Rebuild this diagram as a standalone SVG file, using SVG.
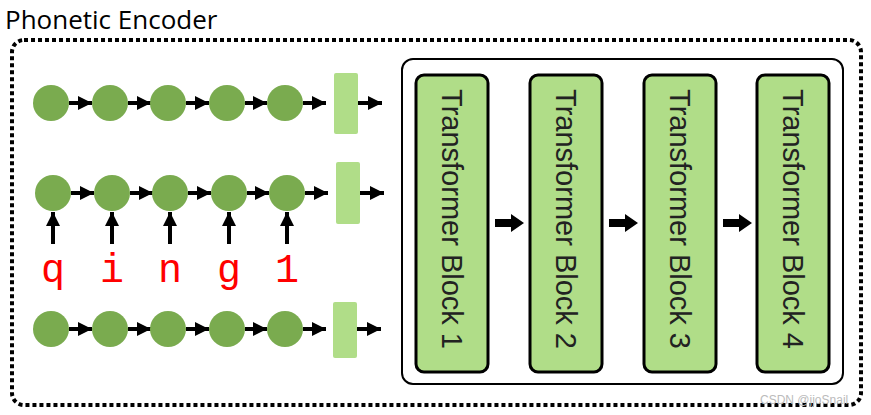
<svg xmlns="http://www.w3.org/2000/svg" width="871" height="415" viewBox="0 0 871 415">
<defs>
<marker id="ah" viewBox="0 0 10 10" refX="10" refY="5" markerWidth="15" markerHeight="14" markerUnits="userSpaceOnUse" orient="auto"><path d="M0,0 L10,5 L0,10 z" fill="#000"/></marker>
<style>
.c{fill:#7aab4f}
.a{stroke:#000;stroke-width:4;marker-end:url(#ah)}
.r{fill:#b0dd88}
.b{fill:#b0dd88;stroke:#000;stroke-width:3}
.bt{font-family:"Liberation Sans",Arial,sans-serif;font-size:29px;fill:#222}
.l{font-family:"Liberation Mono","Courier New",monospace;font-size:40px;fill:#f00}
</style>
</defs>
<rect width="871" height="415" fill="#fff"/>
<text x="5" y="29" font-family="Open Sans,Liberation Sans,sans-serif" font-size="26" fill="#000">Phonetic Encoder</text>
<rect x="12" y="40" width="849" height="365" rx="12" fill="none" stroke="#000" stroke-width="4" stroke-dasharray="4,3"/>
<rect x="402" y="59" width="441" height="325" rx="11" fill="none" stroke="#000" stroke-width="2"/>
<g id="connectors">
<line class="a" x1="69" y1="103" x2="92" y2="103"/><line class="a" x1="128" y1="103" x2="151" y2="103"/><line class="a" x1="186" y1="103" x2="209" y2="103"/><line class="a" x1="245" y1="103" x2="267" y2="103"/><line class="a" x1="303" y1="103" x2="326" y2="103"/><line class="a" x1="358" y1="103" x2="382" y2="103"/>
<line class="a" x1="71" y1="193" x2="94" y2="193"/><line class="a" x1="130" y1="193" x2="153" y2="193"/><line class="a" x1="188" y1="193" x2="211" y2="193"/><line class="a" x1="247" y1="193" x2="269" y2="193"/><line class="a" x1="305" y1="193" x2="328" y2="193"/><line class="a" x1="360" y1="193" x2="384" y2="193"/>
<line class="a" x1="69" y1="329" x2="92" y2="329"/><line class="a" x1="128" y1="329" x2="151" y2="329"/><line class="a" x1="186" y1="329" x2="209" y2="329"/><line class="a" x1="245" y1="329" x2="267" y2="329"/><line class="a" x1="303" y1="329" x2="326" y2="329"/><line class="a" x1="357" y1="329" x2="381" y2="329"/>
<line class="a" x1="53" y1="244" x2="53" y2="212"/><line class="a" x1="112" y1="244" x2="112" y2="212"/><line class="a" x1="170" y1="244" x2="170" y2="212"/><line class="a" x1="229" y1="244" x2="229" y2="212"/><line class="a" x1="287" y1="244" x2="287" y2="212"/>
<path d="M495,219 H511 V214 L524,223 L511,232 V227 H495 Z"/>
<path d="M609,219 H625 V214 L638,223 L625,232 V227 H609 Z"/>
<path d="M723,219 H739 V214 L752,223 L739,232 V227 H723 Z"/>
</g>
<g id="row1"><circle class="c" cx="51" cy="103" r="18"/><circle class="c" cx="110" cy="103" r="18"/><circle class="c" cx="168" cy="103" r="18"/><circle class="c" cx="227" cy="103" r="18"/><circle class="c" cx="285" cy="103" r="18"/><rect class="r" x="334" y="73" width="24" height="61" rx="2"/></g>
<g id="row2"><circle class="c" cx="53" cy="193" r="18"/><circle class="c" cx="112" cy="193" r="18"/><circle class="c" cx="170" cy="193" r="18"/><circle class="c" cx="229" cy="193" r="18"/><circle class="c" cx="287" cy="193" r="18"/><rect class="r" x="336" y="162" width="24" height="62" rx="2"/></g>
<g id="row3"><circle class="c" cx="51" cy="329" r="18"/><circle class="c" cx="110" cy="329" r="18"/><circle class="c" cx="168" cy="329" r="18"/><circle class="c" cx="227" cy="329" r="18"/><circle class="c" cx="285" cy="329" r="18"/><rect class="r" x="333" y="302" width="24" height="56" rx="2"/></g>
<g id="letters" text-anchor="middle"><text class="l" x="53" y="282">q</text><text class="l" x="112" y="282">i</text><text class="l" x="170" y="282">n</text><text class="l" x="229" y="282">g</text><text class="l" x="287" y="282">1</text></g>
<g id="block1"><rect class="b" x="416" y="75" width="72" height="297" rx="8"/><text class="bt" transform="translate(442,89) rotate(90)">Transformer Block 1</text></g>
<g id="block2"><rect class="b" x="530" y="75" width="72" height="297" rx="8"/><text class="bt" transform="translate(556,89) rotate(90)">Transformer Block 2</text></g>
<g id="block3"><rect class="b" x="644" y="75" width="72" height="297" rx="8"/><text class="bt" transform="translate(670,89) rotate(90)">Transformer Block 3</text></g>
<g id="block4"><rect class="b" x="757" y="75" width="72" height="297" rx="8"/><text class="bt" transform="translate(783,89) rotate(90)">Transformer Block 4</text></g>
<text x="760" y="404" font-family="Liberation Sans,sans-serif" font-size="12" fill="#bbb">CSDN @jjoSnail</text>
</svg>
